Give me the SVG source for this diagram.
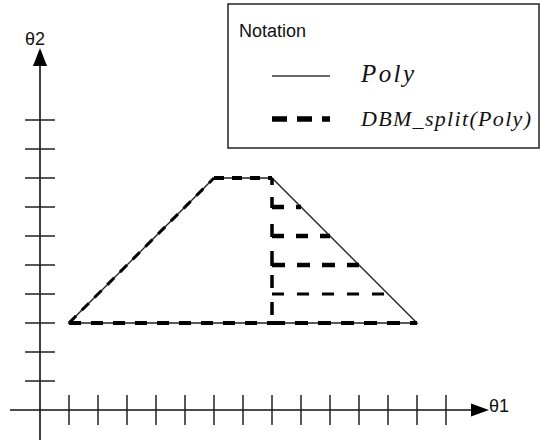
<svg xmlns="http://www.w3.org/2000/svg" width="540" height="440" viewBox="0 0 540 440">
<style>
.ax{stroke:#111;stroke-width:1.6;fill:none}
.tk{stroke:#222;stroke-width:1.5;fill:none}
.poly{stroke:#222;stroke-width:1.4;fill:none}
.dsh{stroke:#000;fill:none;stroke-linecap:butt}
.lbl{font-family:"Liberation Sans",Arial,sans-serif;fill:#111}
.math{font-family:"Liberation Serif","Times New Roman",serif;font-style:italic;fill:#111}
</style>
<rect width="540" height="440" fill="#fff"/>
<g id="axes">
<line class="ax" x1="40" y1="62" x2="40" y2="440"/>
<polygon points="40,48 33,66 47,66" fill="#000"/>
<line class="ax" x1="10" y1="410" x2="476" y2="410"/>
<polygon points="489,410 471,403.5 471,416.5" fill="#000"/>
<path class="tk" d="M25,120H55M25,149H55M25,178H55M25,207H55M25,236H55M25,265H55M25,294H55M25,323H55M25,352H55M25,381H55"/>
<path class="tk" d="M69,395V425M98,395V425M127,395V425M156,395V425M185,395V425M214,395V425M243,395V425M272,395V425M301,395V425M330,395V425M359,395V425M388,395V425M417,395V425M446,395V425"/>
<text class="lbl" x="25" y="45" font-size="18">θ2</text>
<text class="lbl" x="489" y="412" font-size="18">θ1</text>
</g>
<g id="poly">
<polygon class="poly" points="69,323 214,178 272,178 417,323"/>
</g>
<g id="dbm-split">
<line class="dsh" x1="69" y1="323" x2="214" y2="178" stroke-width="3" stroke-dasharray="10 8"/>
<line class="dsh" x1="214" y1="178" x2="272" y2="178" stroke-width="4" stroke-dasharray="10 8"/>
<line class="dsh" x1="69" y1="323" x2="272" y2="323" stroke="#444" stroke-width="4" stroke-dasharray="12 10"/>
<line class="dsh" x1="272" y1="323" x2="417" y2="323" stroke-width="4" stroke-dasharray="13 10"/>
<path class="dsh" stroke-width="3.5" d="M272,178V185M272,197V208M272,224V237M272,251V266M272,275V288M272,302V315"/>
<line class="dsh" x1="272" y1="207" x2="301" y2="207" stroke-width="4.5" stroke-dasharray="12 12"/>
<line class="dsh" x1="272" y1="236" x2="330" y2="236" stroke-width="4.5" stroke-dasharray="12 12"/>
<line class="dsh" x1="272" y1="265" x2="359" y2="265" stroke-width="4.5" stroke-dasharray="13 12"/>
<line class="dsh" x1="272" y1="294" x2="388" y2="294" stroke-width="3" stroke-dasharray="12 13"/>
</g>
<g id="legend">
<rect x="228" y="4" width="311" height="144" fill="#fff" stroke="#222" stroke-width="1.5"/>
<text class="lbl" x="239" y="37" font-size="18">Notation</text>
<line x1="272" y1="76" x2="330" y2="76" stroke="#333" stroke-width="1.5"/>
<line x1="272" y1="119" x2="330" y2="119" stroke="#000" stroke-width="5.5" stroke-dasharray="15 10"/>
<text class="math" x="361" y="82" font-size="25" textLength="53" lengthAdjust="spacing">Poly</text>
<text class="math" x="361" y="126" font-size="22" textLength="170" lengthAdjust="spacing">DBM_split(Poly)</text>
</g>
</svg>
